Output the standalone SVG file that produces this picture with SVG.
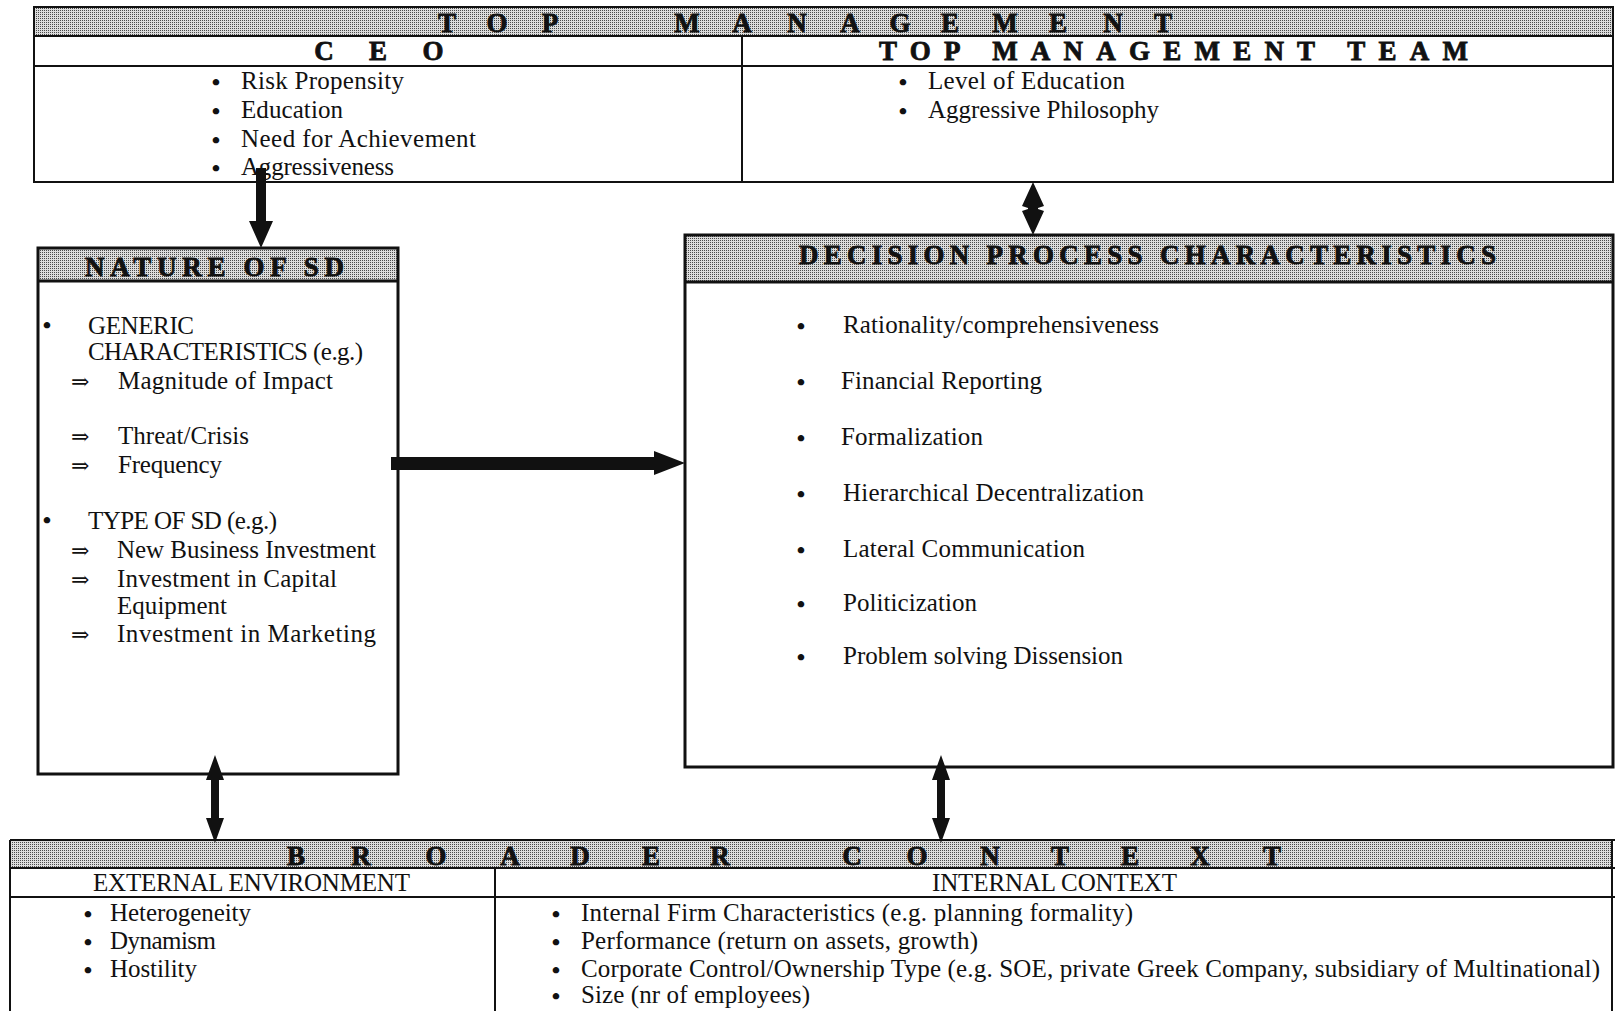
<svg xmlns="http://www.w3.org/2000/svg" width="1615" height="1011" viewBox="0 0 1615 1011">
<defs>
<pattern id="dots" width="2" height="2" patternUnits="userSpaceOnUse">
<rect width="2" height="2" fill="#dcdcdc"/>
<rect width="1" height="1" fill="#4a4a4a"/>
</pattern>
<style>
.t{font-family:"Liberation Serif","DejaVu Serif",serif;font-size:25px;fill:#111}
.b{font-family:"Liberation Serif","DejaVu Serif",serif;font-size:24px;font-weight:bold;fill:#111}
.a{font-family:"DejaVu Serif","Liberation Serif",serif;font-size:22px;fill:#111}
.hd{font-family:"Liberation Serif","DejaVu Serif",serif;font-size:27px;font-weight:bold;fill:#111;stroke:#111;stroke-width:0.8}
.ban{fill:url(#dots)}
.ln{stroke:#111;stroke-width:2;fill:none}
.bx{stroke:#111;stroke-width:3;fill:none}
.ar{fill:#111}
</style>
</defs>
<rect width="1615" height="1011" fill="#fff"/>

<g id="top-management">
<rect class="ban" x="34" y="7" width="1579" height="29"/>
<rect class="ln" x="34" y="7" width="1579" height="175"/>
<line class="ln" x1="34" y1="36" x2="1613" y2="36"/>
<line class="ln" x1="34" y1="66" x2="1613" y2="66"/>
<line class="ln" x1="742" y1="36" x2="742" y2="182"/>
<text class="hd" y="32" text-anchor="middle" x="447 497 550 687 742 797 850 900 950 1005 1058 1113 1163">TOPMANAGEMENT</text>
</g>

<g id="ceo">
<text class="hd" y="60" text-anchor="middle" x="324 378 433">CEO</text>
<text class="b" x="216" y="90" text-anchor="middle">•</text>
<text class="b" x="216" y="119" text-anchor="middle">•</text>
<text class="b" x="216" y="148" text-anchor="middle">•</text>
<text class="b" x="216" y="176" text-anchor="middle">•</text>
<text class="t" x="241" y="89" textLength="163" lengthAdjust="spacing">Risk Propensity</text>
<text class="t" x="241" y="118" textLength="102" lengthAdjust="spacing">Education</text>
<text class="t" x="241" y="147" textLength="235" lengthAdjust="spacing">Need for Achievement</text>
<text class="t" x="241" y="175" textLength="153" lengthAdjust="spacing">Aggressiveness</text>
</g>

<g id="top-management-team">
<text class="hd" x="879" y="60" textLength="589" lengthAdjust="spacing">TOP MANAGEMENT TEAM</text>
<text class="b" x="903" y="90" text-anchor="middle">•</text>
<text class="b" x="903" y="119" text-anchor="middle">•</text>
<text class="t" x="928" y="89" textLength="197" lengthAdjust="spacing">Level of Education</text>
<text class="t" x="928" y="118" textLength="231" lengthAdjust="spacing">Aggressive Philosophy</text>
</g>

<g id="nature-of-sd">
<rect x="38" y="248" width="360" height="526" fill="#fff"/>
<rect class="ban" x="38" y="248" width="360" height="33"/>
<rect class="bx" x="38" y="248" width="360" height="526"/>
<line class="bx" x1="38" y1="281" x2="398" y2="281"/>
<text class="hd" x="85" y="276" textLength="259" lengthAdjust="spacing">NATURE OF SD</text>
<text class="b" x="47" y="333" text-anchor="middle">•</text>
<text class="t" x="88" y="334" textLength="106" lengthAdjust="spacing">GENERIC</text>
<text class="t" x="88" y="360" textLength="275" lengthAdjust="spacing">CHARACTERISTICS (e.g.)</text>
<text class="a" x="71" y="389">⇒</text>
<text class="t" x="118" y="389" textLength="215" lengthAdjust="spacing">Magnitude of Impact</text>
<text class="a" x="71" y="444">⇒</text>
<text class="t" x="118" y="444" textLength="131" lengthAdjust="spacing">Threat/Crisis</text>
<text class="a" x="71" y="473">⇒</text>
<text class="t" x="118" y="473" textLength="104" lengthAdjust="spacing">Frequency</text>
<text class="b" x="47" y="528" text-anchor="middle">•</text>
<text class="t" x="88" y="529" textLength="189" lengthAdjust="spacing">TYPE OF SD (e.g.)</text>
<text class="a" x="71" y="558">⇒</text>
<text class="t" x="117" y="558" textLength="259" lengthAdjust="spacing">New Business Investment</text>
<text class="a" x="71" y="587">⇒</text>
<text class="t" x="117" y="587" textLength="220" lengthAdjust="spacing">Investment in Capital</text>
<text class="t" x="117" y="614" textLength="110" lengthAdjust="spacing">Equipment</text>
<text class="a" x="71" y="642">⇒</text>
<text class="t" x="117" y="642" textLength="259" lengthAdjust="spacing">Investment in  Marketing</text>
</g>

<g id="decision-process">
<rect x="685" y="235" width="928" height="532" fill="#fff"/>
<rect class="ban" x="685" y="235" width="928" height="47"/>
<rect class="bx" x="685" y="235" width="928" height="532"/>
<line class="bx" x1="685" y1="282" x2="1613" y2="282"/>
<text class="hd" x="799" y="264" textLength="697" lengthAdjust="spacing">DECISION PROCESS CHARACTERISTICS</text>
<text class="b" x="801" y="334" text-anchor="middle">•</text>
<text class="b" x="801" y="390" text-anchor="middle">•</text>
<text class="b" x="801" y="446" text-anchor="middle">•</text>
<text class="b" x="801" y="502" text-anchor="middle">•</text>
<text class="b" x="801" y="558" text-anchor="middle">•</text>
<text class="b" x="801" y="612" text-anchor="middle">•</text>
<text class="b" x="801" y="665" text-anchor="middle">•</text>
<text class="t" x="843" y="333" textLength="316" lengthAdjust="spacing">Rationality/comprehensiveness</text>
<text class="t" x="841" y="389" textLength="201" lengthAdjust="spacing">Financial Reporting</text>
<text class="t" x="841" y="445" textLength="142" lengthAdjust="spacing">Formalization</text>
<text class="t" x="843" y="501" textLength="301" lengthAdjust="spacing">Hierarchical Decentralization</text>
<text class="t" x="843" y="557" textLength="242" lengthAdjust="spacing">Lateral Communication</text>
<text class="t" x="843" y="611" textLength="134" lengthAdjust="spacing">Politicization</text>
<text class="t" x="843" y="664" textLength="280" lengthAdjust="spacing">Problem solving Dissension</text>
</g>

<g id="broader-context">
<rect class="ban" x="10" y="840" width="1603" height="28"/>
<line class="ln" x1="10" y1="840" x2="1615" y2="840"/>
<line class="ln" x1="10" y1="868" x2="1615" y2="868"/>
<line class="ln" x1="10" y1="897" x2="1615" y2="897"/>
<line class="ln" x1="10" y1="840" x2="10" y2="1011"/>
<line class="ln" x1="495" y1="868" x2="495" y2="1011"/>
<line class="ln" x1="1612" y1="840" x2="1612" y2="1011"/>
<text class="hd" y="865" text-anchor="middle" x="296 361 436 510 580 651 720 852 917 990 1060 1130 1200 1272">BROADERCONTEXT</text>
</g>

<g id="external-environment">
<text class="t" x="93" y="891" textLength="317" lengthAdjust="spacing">EXTERNAL ENVIRONMENT</text>
<text class="b" x="88" y="922" text-anchor="middle">•</text>
<text class="b" x="88" y="950" text-anchor="middle">•</text>
<text class="b" x="88" y="978" text-anchor="middle">•</text>
<text class="t" x="110" y="921" textLength="141" lengthAdjust="spacing">Heterogeneity</text>
<text class="t" x="110" y="949" textLength="106" lengthAdjust="spacing">Dynamism</text>
<text class="t" x="110" y="977" textLength="87" lengthAdjust="spacing">Hostility</text>
</g>

<g id="internal-context">
<text class="t" x="932" y="891" textLength="245" lengthAdjust="spacing">INTERNAL CONTEXT</text>
<text class="b" x="556" y="922" text-anchor="middle">•</text>
<text class="b" x="556" y="950" text-anchor="middle">•</text>
<text class="b" x="556" y="978" text-anchor="middle">•</text>
<text class="b" x="556" y="1004" text-anchor="middle">•</text>
<text class="t" x="581" y="921" textLength="552" lengthAdjust="spacing">Internal Firm Characteristics (e.g. planning formality)</text>
<text class="t" x="581" y="949" textLength="397" lengthAdjust="spacing">Performance (return on assets, growth)</text>
<text class="t" x="581" y="977" textLength="1019" lengthAdjust="spacing">Corporate Control/Ownership Type (e.g. SOE, private Greek Company, subsidiary of Multinational)</text>
<text class="t" x="581" y="1003" textLength="229" lengthAdjust="spacing">Size (nr of employees)</text>
</g>

<g id="connectors">
<path class="ar" d="M256,168 H266 V221 H273 L261,248 L249,221 H256 Z"/>
<path class="ar" d="M1033,182 L1044,206 L1038,208 L1038,209 L1044,211 L1033,235 L1022,211 L1028,209 L1028,208 L1022,206 Z"/>
<path class="ar" d="M391,457 H654 V451 L685,463 L654,475 V470 H391 Z"/>
<path class="ar" d="M215,755 L224,780 L219,780 L219,818 L224,818 L215,843 L206,818 L211,818 L211,780 L206,780 Z"/>
<path class="ar" d="M941,755 L950,780 L945,780 L945,818 L950,818 L941,843 L932,818 L937,818 L937,780 L932,780 Z"/>
</g>
</svg>
